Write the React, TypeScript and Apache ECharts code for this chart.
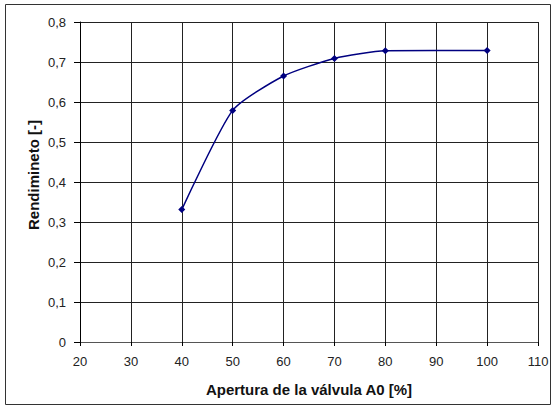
import React, { useEffect, useRef } from "react";
import * as echarts from "echarts";

const apertura = [40, 50, 60, 70, 80, 100];
const rendimiento = [0.331, 0.579, 0.665, 0.709, 0.728, 0.729];
const xTitle = "Apertura de la válvula A0 [%]";
const yTitle = "Rendimineto [-]";

export default function App() {
  const ref = useRef<HTMLDivElement>(null);
  useEffect(() => {
    if (!ref.current) return;
    const chart = echarts.init(ref.current, null, { renderer: "svg" });
    const font = "Arial, 'Liberation Sans', sans-serif";
    chart.setOption({
      animation: false,
      backgroundColor: "#fff",
      grid: { left: 80, right: 15, top: 22, bottom: 65, containLabel: false },
      graphic: [
        {
          type: "rect",
          shape: { x: 5.5, y: 4.5, width: 545, height: 400 },
          style: { fill: "none", stroke: "#333", lineWidth: 1 },
          silent: true,
        },
        {
          type: "text",
          x: 33,
          y: 175,
          rotation: Math.PI / 2,
          style: {
            text: yTitle,
            fontFamily: font,
            fontSize: 15,
            fontWeight: "bold",
            fill: "#111",
            align: "center",
            verticalAlign: "middle",
          },
        },
      ],
      xAxis: {
        type: "value",
        min: 20,
        max: 110,
        interval: 10,
        name: xTitle,
        nameLocation: "middle",
        nameGap: 40,
        nameTextStyle: { fontFamily: font, fontSize: 15, fontWeight: "bold", color: "#111" },
        axisLine: { show: true, lineStyle: { color: "#555", width: 1 } },
        axisTick: { show: true, inside: false, length: 4, lineStyle: { color: "#000" } },
        axisLabel: { fontFamily: font, fontSize: 13, color: "#222", margin: 13 },
        splitLine: { show: true, lineStyle: { color: "#222", width: 1 } },
      },
      yAxis: {
        type: "value",
        min: 0,
        max: 0.8,
        interval: 0.1,
        axisLine: { show: true, lineStyle: { color: "#000", width: 1 } },
        axisTick: { show: true, inside: false, length: 6, lineStyle: { color: "#000" } },
        axisLabel: {
          fontFamily: font,
          fontSize: 13,
          color: "#222",
          margin: 14,
          formatter: (v: number) => (v === 0 ? "0" : v.toFixed(1).replace(".", ",")),
        },
        splitLine: { show: true, lineStyle: { color: "#222", width: 1 } },
      },
      series: [
        {
          type: "line",
          data: apertura.map((x, i) => [x, rendimiento[i]]),
          smooth: 0.2,
          symbol: "diamond",
          symbolSize: 7,
          lineStyle: { color: "#000080", width: 1.5 },
          itemStyle: { color: "#000080" },
        },
      ],
    });
    return () => chart.dispose();
  }, []);
  return (
    <div
      ref={ref}
      style={{ position: "absolute", left: 0, top: 0, width: 553, height: 407 }}
    />
  );
}
